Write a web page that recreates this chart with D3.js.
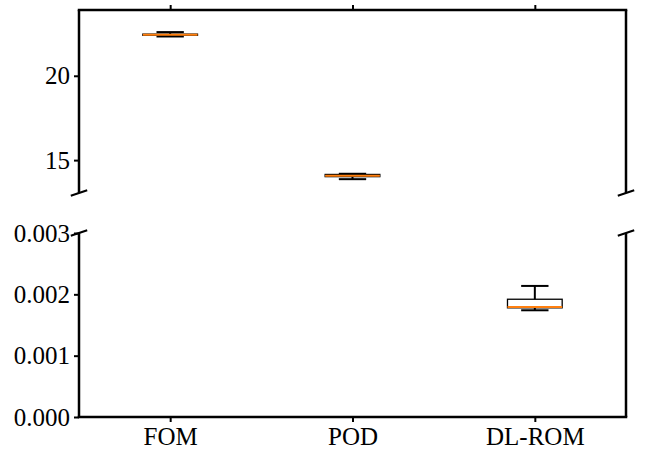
<!DOCTYPE html>
<html>
<head>
<meta charset="utf-8">
<script src="https://cdn.jsdelivr.net/npm/d3@7"></script>
<style>
  body { margin: 0; background: #fff; }
  svg text { font-family: "Liberation Serif", "DejaVu Serif", serif; font-size: 25px; fill: #000; }
</style>
</head>
<body>
<svg id="chart" width="645" height="450"></svg>
<script>
// box statistics
const categories = ["FOM", "POD", "DL-ROM"];
const whiskerLow  = [22.33, 13.87, 0.00174];
const quart1      = [22.40, 14.02, 0.00178];
const medians     = [22.43, 14.07, 0.001794];
const quart3      = [22.47, 14.15, 0.00192];
const whiskerHigh = [22.59, 14.19, 0.002137];

const topTicks = [15, 20];
const bottomTicks = [0, 0.001, 0.002, 0.003];

const boxes = categories.map((c, i) => ({
    name: c, pos: i + 1,
    lo: whiskerLow[i], q1: quart1[i], med: medians[i], q3: quart3[i], hi: whiskerHigh[i]
}));

const svg = d3.select("#chart");
const left = 79, right = 626;
const panels = [
    { y0: 10, y1: 193, domain: [13.05, 23.9], ticks: topTicks, fmt: d3.format("d"), isTop: true },
    { y0: 233, y1: 417, domain: [0, 0.003], ticks: bottomTicks, fmt: d3.format(".3f"), isTop: false }
];

const x = d3.scaleLinear().domain([0.5, 3.5]).range([left, right]);
const boxW = x(1.3) - x(1); // matplotlib default width 0.3
const capW = boxW / 2;

panels.forEach(p => {
    const y = d3.scaleLinear().domain(p.domain).range([p.y1, p.y0]);
    const g = svg.append("g");

    // clip marks to the panel
    const clipId = "clip" + (p.isTop ? "T" : "B");
    svg.append("clipPath").attr("id", clipId)
        .append("rect").attr("x", left).attr("y", p.y0).attr("width", right - left).attr("height", p.y1 - p.y0);
    const marks = g.append("g").attr("clip-path", `url(#${clipId})`);

    const bx = marks.selectAll(".box").data(boxes).enter().append("g").attr("class", "box");
    // whiskers
    bx.append("line")
        .attr("x1", d => x(d.pos)).attr("x2", d => x(d.pos))
        .attr("y1", d => y(d.q3)).attr("y2", d => y(d.hi))
        .attr("stroke", "#000").attr("stroke-width", 2);
    bx.append("line")
        .attr("x1", d => x(d.pos)).attr("x2", d => x(d.pos))
        .attr("y1", d => y(d.q1)).attr("y2", d => y(d.lo))
        .attr("stroke", "#000").attr("stroke-width", 2);
    // caps
    bx.append("line")
        .attr("x1", d => x(d.pos) - capW / 2).attr("x2", d => x(d.pos) + capW / 2)
        .attr("y1", d => y(d.hi)).attr("y2", d => y(d.hi))
        .attr("stroke", "#000").attr("stroke-width", 2);
    bx.append("line")
        .attr("x1", d => x(d.pos) - capW / 2).attr("x2", d => x(d.pos) + capW / 2)
        .attr("y1", d => y(d.lo)).attr("y2", d => y(d.lo))
        .attr("stroke", "#000").attr("stroke-width", 2);
    // box
    bx.append("rect")
        .attr("x", d => x(d.pos) - boxW / 2).attr("width", boxW)
        .attr("y", d => y(d.q3)).attr("height", d => y(d.q1) - y(d.q3))
        .attr("fill", "none").attr("stroke", "#000").attr("stroke-width", 1.3);
    // median
    bx.append("line")
        .attr("x1", d => x(d.pos) - boxW / 2).attr("x2", d => x(d.pos) + boxW / 2)
        .attr("y1", d => y(d.med)).attr("y2", d => y(d.med))
        .attr("stroke", "#ff7f0e").attr("stroke-width", 2);

    // y axis
    const yAxis = g.append("g").attr("transform", `translate(${left},0)`)
        .call(d3.axisLeft(y).tickValues(p.ticks).tickFormat(p.fmt).tickSize(5).tickPadding(4));
    yAxis.select(".domain").remove();
    yAxis.selectAll(".tick line").attr("stroke-width", 2);
    yAxis.selectAll(".tick text").attr("font-size", 25).attr("font-family", null);

    // x ticks
    if (p.isTop) {
        const xAxis = g.append("g").attr("transform", `translate(0,${p.y0})`)
            .call(d3.axisTop(x).tickValues(boxes.map(d => d.pos)).tickSize(5).tickFormat(""));
        xAxis.select(".domain").remove();
        xAxis.selectAll(".tick line").attr("stroke-width", 2);
    } else {
        const xAxis = g.append("g").attr("transform", `translate(0,${p.y1})`)
            .call(d3.axisBottom(x).tickValues(boxes.map(d => d.pos)).tickSize(5).tickPadding(5)
                .tickFormat((d, i) => categories[i]));
        xAxis.select(".domain").remove();
        xAxis.selectAll(".tick line").attr("stroke-width", 2);
        xAxis.selectAll(".tick text").attr("font-size", 25).attr("font-family", null);
    }

    // spines (no spine on the broken side)
    const spine = { stroke: "#000", sw: 2.5 };
    g.append("line").attr("x1", left).attr("x2", left).attr("y1", p.y0).attr("y2", p.y1)
        .attr("stroke", spine.stroke).attr("stroke-width", spine.sw);
    g.append("line").attr("x1", right).attr("x2", right).attr("y1", p.y0).attr("y2", p.y1)
        .attr("stroke", spine.stroke).attr("stroke-width", spine.sw);
    const yEdge = p.isTop ? p.y0 : p.y1;
    g.append("line").attr("x1", left - 1.25).attr("x2", right + 1.25).attr("y1", yEdge).attr("y2", yEdge)
        .attr("stroke", spine.stroke).attr("stroke-width", spine.sw);

    // break marks
    const yBreak = p.isTop ? p.y1 : p.y0;
    const dx = 0.015 * (right - left), dy = 0.015 * (p.y1 - p.y0);
    [left, right].forEach(xx => {
        g.append("line")
            .attr("x1", xx - dx).attr("y1", yBreak + dy)
            .attr("x2", xx + dx).attr("y2", yBreak - dy)
            .attr("stroke", "#000").attr("stroke-width", 2);
    });
});
</script>
</body>
</html>
